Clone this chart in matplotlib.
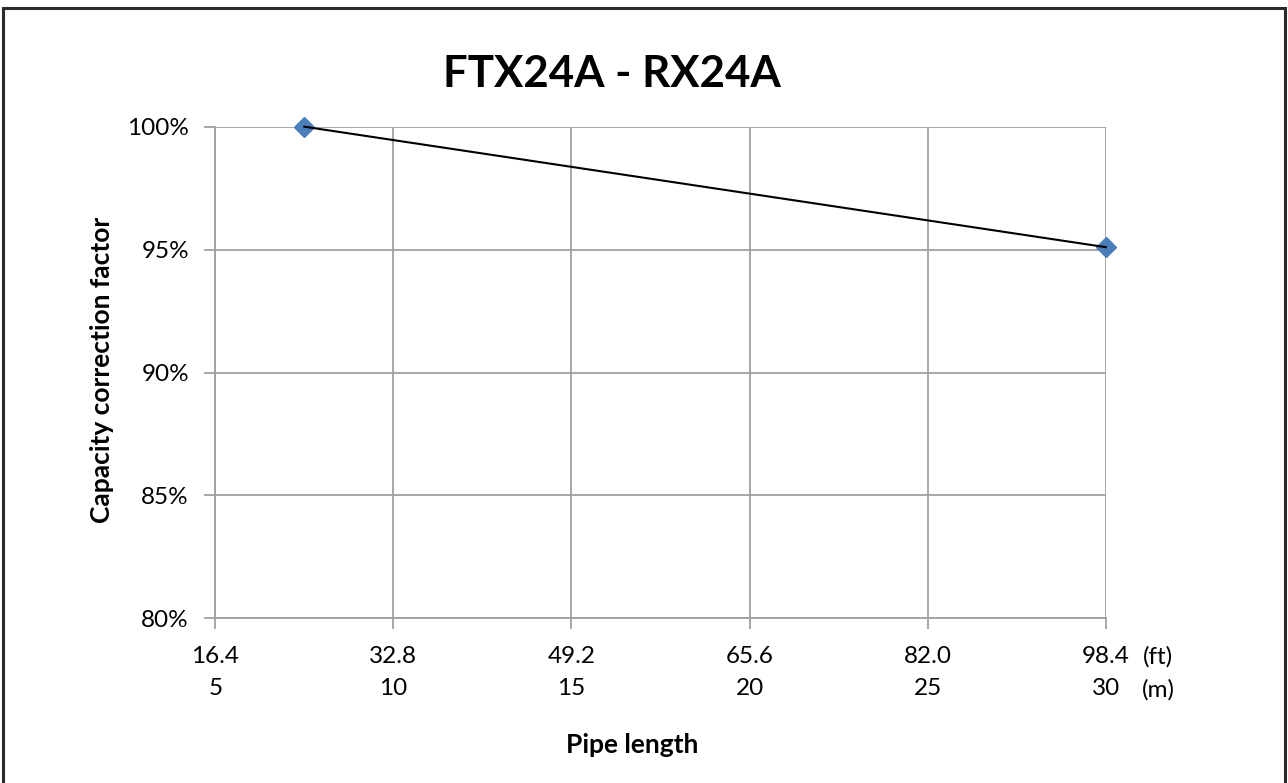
import matplotlib
matplotlib.use("Agg")
import matplotlib.pyplot as plt
from matplotlib.patches import Rectangle
from matplotlib.ticker import FuncFormatter

# Data
pipe_length_m = [7.5, 30]
capacity_factor = [1.00, 0.951]
tick_m = [5, 10, 15, 20, 25, 30]
tick_ft = ["16.4", "32.8", "49.2", "65.6", "82.0", "98.4"]
tick_y = [0.80, 0.85, 0.90, 0.95, 1.00]
title = "FTX24A - RX24A"

plt.rcParams['font.family'] = ['Lato', 'DejaVu Sans']

W, H = 1288, 783
fig = plt.figure(figsize=(W / 100, H / 100), dpi=100)
ax = fig.add_axes([215.3 / W, 1 - 618.3 / H, (1105.7 - 215.3) / W, (618.3 - 126.7) / H])

grid_c = '#a0a0a0'
ax.plot(pipe_length_m, capacity_factor, linestyle='none', marker='D',
        markersize=10.5, color='#4a7ebb', zorder=3, clip_on=False)
ax.plot(pipe_length_m, capacity_factor, color='black', linewidth=1.5, zorder=4, clip_on=False)

ax.set_xlim(5, 30)
ax.set_ylim(0.80, 1.00)
ax.set_xticks(tick_m)
ax.set_xticklabels([f"{ft}\n{m}" for ft, m in zip(tick_ft, tick_m)])
ax.set_yticks(tick_y)
ax.yaxis.set_major_formatter(FuncFormatter(lambda v, p: f"{v*100:.0f}%"))

ax.grid(True, color=grid_c, linewidth=1.3)
for s in ['top', 'right']:
    ax.spines[s].set_visible(False)
for s in ['left', 'bottom']:
    ax.spines[s].set_color(grid_c)
    ax.spines[s].set_linewidth(1.3)
fs = 17.5
ax.tick_params(axis='both', color=grid_c, length=8, width=1.3, labelsize=fs, labelcolor='black')
ax.tick_params(axis='x', pad=12)
ax.tick_params(axis='y', pad=11)
for lbl in ax.get_xticklabels():
    lbl.set_linespacing(1.62)

fig.text(1158 / W, 1 - 657 / H, "(ft)", ha='center', va='center', fontsize=fs)
fig.text(1158 / W, 1 - 690 / H, "(m)", ha='center', va='center', fontsize=fs)

fig.text(612 / W, 1 - 87 / H, title, ha='center', va='baseline', fontsize=31.5, fontweight='bold')
fig.text(632 / W, 1 - 753 / H, "Pipe length", ha='center', va='baseline', fontsize=19, fontweight='bold')
fig.text(102 / W, 1 - 370 / H, "Capacity correction factor", ha='center', va='center',
         rotation=90, fontsize=19, fontweight='bold')

fig.patches.append(Rectangle((3 / W, -0.02), (1285 - 3) / W, 1 - 8 / H + 0.02,
                             transform=fig.transFigure, fill=False,
                             edgecolor='#2b2b2b', linewidth=2.2))

fig.savefig("out.png", dpi=100)
